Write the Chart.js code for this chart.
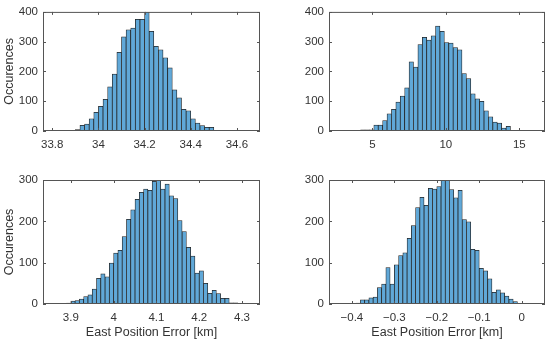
<!DOCTYPE html>
<html>
<head>
<meta charset="UTF-8">
<title>East position error histograms</title>
<script src="https://cdn.jsdelivr.net/npm/chart.js@4.4.1/dist/chart.umd.min.js"></script>
<style>
  body { margin: 0; background: #fff; width: 550px; height: 343px; overflow: hidden; }
  canvas { position: absolute; }
</style>
</head>
<body>
<canvas id="c1" width="275" height="160" style="left:0;top:0"></canvas>
<canvas id="c2" width="275" height="160" style="left:275px;top:0"></canvas>
<canvas id="c3" width="275" height="183" style="left:0;top:160px"></canvas>
<canvas id="c4" width="275" height="183" style="left:275px;top:160px"></canvas>

<script>
// bin centres and counts
const bins1 = [33.89,33.91,33.93,33.95,33.97,33.99,34.01,34.03,34.05,34.07,34.09,34.11,34.13,34.15,34.17,34.19,34.21,
  34.23,34.25,34.27,34.29,34.31,34.33,34.35,34.37,34.39,34.41,34.43,34.45,34.47,34.49,34.51,34.53];
const counts1 = [2,5,19,23,41,63,83,106,148,191,264,316,340,346,375,375,402,
  335,284,273,246,212,138,111,73,68,41,27,18,12,12,2,1];

const bins2 = [4.35,4.65,4.95,5.25,5.55,5.85,6.15,6.45,6.75,7.05,7.35,7.65,7.95,8.25,8.55,8.85,9.15,9.45,9.75,
  10.05,10.35,10.65,10.95,11.25,11.55,11.85,12.15,12.45,12.75,13.05,13.35,13.65,13.95,14.25,14.55,14.85,15.15];
const counts2 = [4,4,4,20,20,35,58,73,97,117,145,232,215,290,315,305,320,352,335,
  297,295,280,273,193,176,125,108,100,68,48,30,27,10,16,0,0,2];

const bins3 = [3.895,3.905,3.915,3.925,3.935,3.945,3.955,3.965,3.975,3.985,3.995,4.005,4.015,4.025,4.035,4.045,
  4.055,4.065,4.075,4.085,4.095,4.105,4.115,4.125,4.135,4.145,4.155,4.165,4.175,4.185,4.195,4.205,4.215,4.225,
  4.235,4.245,4.255,4.265,4.275,4.285,4.295,4.305];
const counts3 = [2,7,8,12,18,22,36,62,73,66,99,123,130,163,205,228,
  253,270,278,275,297,302,278,290,262,255,202,175,137,116,75,80,50,26,
  33,25,14,14,3,3,0,1];

const bins4 = [-0.395,-0.385,-0.375,-0.365,-0.355,-0.345,-0.335,-0.325,-0.315,-0.305,-0.295,-0.285,-0.275,-0.265,
  -0.255,-0.245,-0.235,-0.225,-0.215,-0.205,-0.195,-0.185,-0.175,-0.165,-0.155,-0.145,-0.135,-0.125,-0.115,-0.105,
  -0.095,-0.085,-0.075,-0.065,-0.055,-0.045,-0.035,-0.025,-0.015,-0.005,0.005,0.015,0.025];
const counts4 = [1,2,10,10,15,17,40,48,88,48,95,117,124,159,
  190,233,258,239,280,278,284,302,302,277,257,275,204,199,132,130,
  86,80,61,28,34,27,19,12,6,1,0,0,1];

// tick values / labels
const xTicks1 = [33.8, 34, 34.2, 34.4, 34.6];
const xTicks2 = [5, 10, 15];
const xTicks3 = [3.9, 4, 4.1, 4.2, 4.3];
const xTicks4 = [-0.4, -0.3, -0.2, -0.1, 0];
const yTicksTop = [0, 100, 200, 300, 400];
const yTicksBottom = [0, 100, 200, 300];

const yTitle = 'Occurences';
const xTitle = 'East Position Error [km]';

const FONT = '"Liberation Sans", Arial, Helvetica, sans-serif';
const TXT = '#333333';
const BAR_FILL = 'rgb(96,168,216)';
const BAR_EDGE = '#222222';
const AXIS = '#555555';

// matlab style box with inward ticks
const boxPlugin = {
  id: 'matlabBox',
  afterDatasetsDraw(chart) {
    const {ctx, chartArea: a, scales} = chart;
    const x = scales.x, y = scales.y, tl = 3;
    ctx.save();
    ctx.strokeStyle = AXIS;
    ctx.lineWidth = 1;
    ctx.strokeRect(a.left + 0.5, a.top + 0.5, a.right - a.left - 1, a.bottom - a.top - 1);
    ctx.beginPath();
    x.ticks.forEach(t => {
      const px = Math.round(x.getPixelForValue(t.value)) + 0.5;
      ctx.moveTo(px, a.bottom); ctx.lineTo(px, a.bottom - tl);
      ctx.moveTo(px, a.top); ctx.lineTo(px, a.top + tl);
    });
    y.ticks.forEach(t => {
      const py = Math.round(y.getPixelForValue(t.value)) + 0.5;
      ctx.moveTo(a.left, py); ctx.lineTo(a.left + tl, py);
      ctx.moveTo(a.right, py); ctx.lineTo(a.right - tl, py);
    });
    ctx.stroke();
    ctx.restore();
  }
};

function makePanel(id, bins, counts, p) {
  new Chart(document.getElementById(id), {
    type: 'bar',
    data: {
      datasets: [{
        data: bins.map((b, i) => ({x: b, y: counts[i]})),
        backgroundColor: BAR_FILL,
        borderColor: BAR_EDGE,
        borderWidth: 0.75,
        borderSkipped: false,
        barPercentage: 1,
        categoryPercentage: 1
      }]
    },
    options: {
      responsive: false,
      animation: false,
      devicePixelRatio: 1,
      layout: {padding: {top: p.top, right: p.right, left: 0, bottom: 0}},
      plugins: {legend: {display: false}, tooltip: {enabled: false}},
      scales: {
        x: {
          type: 'linear', min: p.xmin, max: p.xmax, offset: false,
          grid: {display: false, drawTicks: false},
          border: {display: false},
          afterBuildTicks: s => { s.ticks = p.xTicks.map(v => ({value: v})); },
          afterFit: s => { s.height = p.xh; },
          ticks: {
            color: TXT, padding: 7, maxRotation: 0, autoSkip: false,
            font: {family: FONT, size: 11.5},
            callback: v => String(v).replace('-', '\u2212')
          },
          title: {display: p.xTitle, text: xTitle, color: TXT,
            font: {family: FONT, size: 12.5}, padding: {top: 0, bottom: 2.5}}
        },
        y: {
          min: 0, max: p.ymax,
          grid: {display: false, drawTicks: false},
          border: {display: false},
          afterBuildTicks: s => { s.ticks = p.yTicks.map(v => ({value: v})); },
          afterFit: s => { s.width = p.yw; },
          ticks: {color: TXT, padding: 5, font: {family: FONT, size: 11.5}},
          title: {display: p.yTitle, text: yTitle, color: TXT,
            font: {family: FONT, size: 12.5}, padding: {top: 2.5, bottom: 0}}
        }
      }
    },
    plugins: [boxPlugin]
  });
}

makePanel('c1', bins1, counts1, {xmin: 33.76, xmax: 34.70, xTicks: xTicks1, ymax: 400, yTicks: yTicksTop,
  top: 7, right: 15, yw: 43, xh: 29, xTitle: false, yTitle: true});
makePanel('c2', bins2, counts2, {xmin: 2.05, xmax: 16.75, xTicks: xTicks2, ymax: 400, yTicks: yTicksTop,
  top: 7, right: 5, yw: 54, xh: 29, xTitle: false, yTitle: false});
makePanel('c3', bins3, counts3, {xmin: 3.835, xmax: 4.342, xTicks: xTicks3, ymax: 300, yTicks: yTicksBottom,
  top: 20, right: 15, yw: 43, xh: 39, xTitle: true, yTitle: true});
makePanel('c4', bins4, counts4, {xmin: -0.454, xmax: 0.055, xTicks: xTicks4, ymax: 300, yTicks: yTicksBottom,
  top: 20, right: 5, yw: 54, xh: 39, xTitle: true, yTitle: false});
</script>
</body>
</html>
